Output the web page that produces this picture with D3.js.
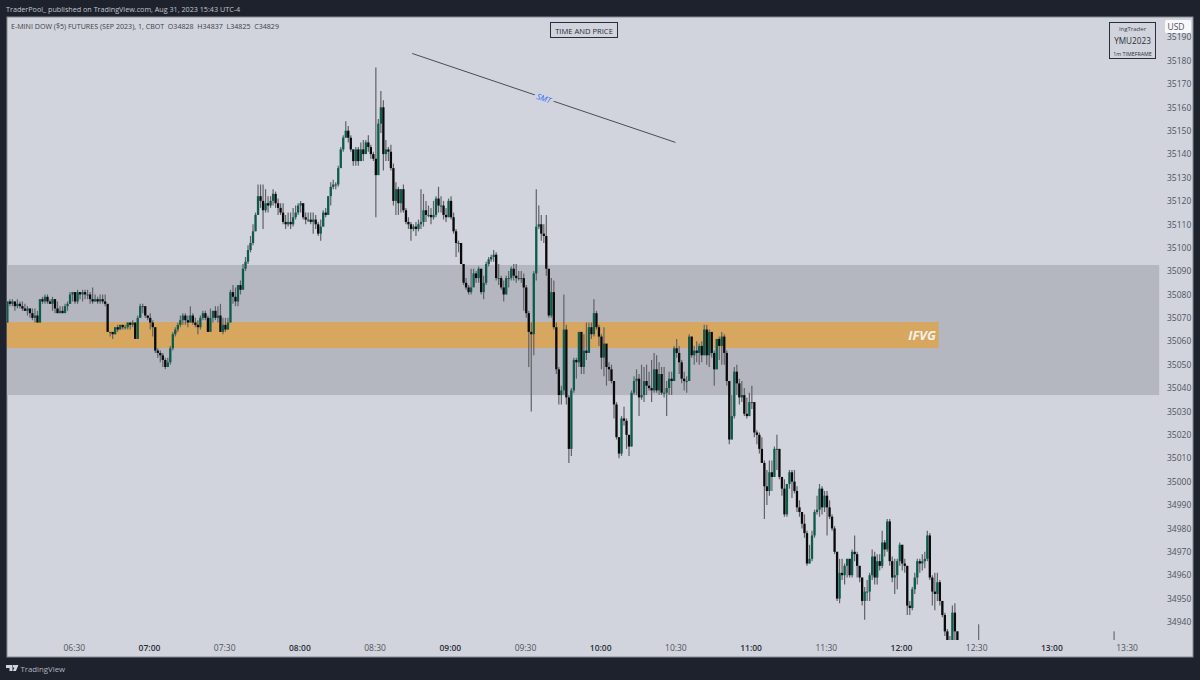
<!DOCTYPE html>
<head>
<meta charset="utf-8">
<title>E-MINI DOW ($5) FUTURES</title>
<script src="https://d3js.org/d3.v7.min.js"></script>
<style>
  body { margin: 0; background: #1e222d; }
  text { font-family: "Open Sans", "DejaVu Sans", sans-serif; }
</style>
</head>
<body>
<svg width="1200" height="680"></svg>
<script>
// 1 minute bars starting just after 06:03, prices kept as points above 34900
var firstMinute = 363.5
var priceBase = 34900
var firstOpen = 168

var closes = [177,176,177,175,176,175,174,173,174,172,170,171,168,178,177,179,177,176,178,174,
172,173,172,175,176,180,181,177,181,180,181,180,180,178,177,178,177,178,177,176,
164,164,163,166,165,167,166,166,168,167,168,161,170,175,175,171,170,168,166,156,
155,154,152,149,151,157,163,165,167,169,171,169,168,171,168,167,166,170,172,170,
164,170,173,170,171,164,167,165,168,181,179,177,184,182,191,194,199,202,207,214,
222,220,216,219,218,220,223,219,217,215,211,210,211,210,213,215,218,219,213,212,
212,211,212,210,206,209,215,214,222,226,227,227,234,242,247,250,247,242,237,242,
237,242,240,245,243,240,238,231,253,260,240,242,241,234,220,225,219,225,216,211,
210,208,209,208,210,211,216,214,214,213,214,221,218,218,214,213,220,213,207,202,
202,193,185,183,181,183,189,187,191,181,185,193,195,196,197,187,187,183,180,187,
187,191,188,187,187,187,183,172,164,163,189,209,210,206,205,191,171,181,166,148,
137,139,165,136,114,139,152,151,164,149,156,155,166,163,172,166,162,153,159,149,
148,143,133,119,112,127,126,120,115,138,143,144,136,137,143,141,140,139,148,139,
146,138,138,140,144,143,157,155,151,144,143,143,162,154,156,155,158,154,165,154,
164,155,148,161,158,162,155,143,118,128,147,142,136,137,129,128,134,134,121,120,
114,108,98,96,104,102,114,114,102,97,86,99,104,100,96,89,87,82,78,65,
67,77,87,88,97,89,94,89,85,80,70,50,61,60,64,67,60,70,69,64,
59,49,53,53,60,68,59,66,64,74,71,83,66,59,60,66,73,65,64,47,
46,54,59,66,65,66,67,77,59,53,52,57,49,43,36,32,31,44,36,30]

var highs = [177,178,178,177,178,177,177,176,175,174,174,174,173,178,179,180,180,178,179,178,
177,175,175,176,177,181,181,181,182,181,182,182,182,181,183,180,179,180,180,180,
175,164,164,166,167,167,167,167,168,168,169,168,171,176,176,175,171,172,169,166,
157,156,155,153,153,158,164,166,168,171,172,172,171,175,172,170,169,171,173,173,
171,174,173,175,175,176,170,170,170,182,184,183,184,186,193,196,201,205,210,215,
227,227,227,225,222,222,225,224,221,219,219,214,215,215,217,218,219,220,219,215,
215,215,215,214,211,212,216,217,222,228,229,228,235,243,248,254,252,248,242,243,
243,245,246,246,248,244,241,277,255,267,263,246,243,244,236,228,226,225,227,217,
213,211,210,211,212,225,223,220,218,217,220,222,226,222,220,217,221,222,215,208,
203,201,193,187,184,191,191,190,192,188,188,194,196,197,199,198,193,188,186,188,
190,192,193,193,190,190,189,184,173,168,190,225,218,214,210,214,190,187,186,168,
149,141,180,167,137,140,153,153,164,164,163,168,168,168,178,173,167,163,166,158,
151,150,143,134,119,128,132,127,120,139,145,148,146,150,149,150,147,152,155,154,
151,149,149,143,147,147,158,161,158,152,147,145,163,162,158,160,159,160,167,167,
165,163,156,161,162,164,163,156,143,137,149,150,144,143,140,136,138,141,134,122,
121,119,109,105,109,109,115,120,114,102,101,99,105,105,105,98,92,87,86,79,
73,79,88,94,99,98,96,96,92,86,81,70,67,67,65,67,67,71,77,70,
64,59,55,58,61,71,70,69,69,79,75,84,84,68,67,67,74,73,67,64,
49,55,61,67,67,69,70,79,78,60,61,61,58,49,44,37,34,47,48,36]

var lows = [168,175,175,173,174,174,173,173,171,170,169,168,168,168,176,176,176,176,173,172,
172,172,172,174,173,176,177,176,176,178,177,178,178,176,176,177,176,176,176,175,
164,162,161,163,164,165,165,165,165,165,166,161,161,170,172,170,169,165,162,155,
153,151,149,148,149,150,156,162,164,166,167,167,166,168,167,166,163,165,169,169,
164,164,168,169,168,164,163,164,165,168,176,175,175,180,182,190,193,198,201,207,
214,217,208,215,215,217,218,217,214,214,210,208,209,208,209,212,214,215,212,210,
211,210,206,208,205,203,209,213,214,218,225,225,226,235,241,247,245,241,235,235,
235,237,237,240,241,238,237,213,232,249,233,237,237,233,218,214,214,215,215,210,
208,203,207,205,207,208,209,211,213,210,212,213,215,215,212,211,213,212,206,196,
198,193,184,182,180,180,184,185,185,180,178,184,192,194,194,186,184,182,177,180,
183,186,186,185,186,185,173,170,149,130,154,186,208,203,202,188,170,170,165,146,
133,133,137,133,108,111,138,144,149,146,146,152,159,161,162,165,158,148,145,141,
143,142,127,118,110,111,124,114,111,115,137,137,128,135,134,137,139,134,138,138,
137,137,136,128,137,137,143,153,146,142,139,138,143,153,150,151,150,151,154,150,
149,153,141,148,152,150,150,141,116,118,127,137,133,134,128,127,128,131,119,116,
112,108,84,90,94,96,102,105,101,94,85,85,97,93,95,87,85,80,76,64,
65,66,76,86,85,86,87,77,84,79,69,49,48,58,56,59,59,59,66,59,
57,47,41,49,49,58,56,56,62,63,68,70,64,57,52,54,64,62,61,43,
43,45,52,56,61,62,63,66,58,47,45,49,47,42,34,32,31,31,31,30]

// the two wicks that poke up after price left the visible range
var strayMinutes = [751, 805]
var strayHighs = [39, 36]

var priceTicks = d3.range(34940, 35191, 10)
var timeTicks = [390, 420, 450, 480, 510, 540, 570, 600, 630, 660, 690, 720, 750, 780, 810]
var smtMinutes = [525, 630]
var smtPrices = [35183, 35145]
var grayZone = [35092.6, 35037]
var orangeZone = [35068.2, 35057.1]
var grayZoneEnd = 823
var orangeZoneEnd = 735

var svg = d3.select('svg')
var frameLeft = 7, frameRight = 1193, frameTop = 17, frameBottom = 657, axisLeft = 1164, axisTop = 640

var x = d3.scaleLinear().domain([420, 480]).range([149, 299.4])
var y = d3.scaleLinear().domain([34940, 35180]).range([622, 60.5])

svg.append('rect').attr('x', frameLeft).attr('y', frameTop)
  .attr('width', frameRight - frameLeft).attr('height', frameBottom - frameTop)
  .attr('fill', '#d1d4dc').attr('stroke', '#868993').attr('stroke-width', 1)

svg.append('defs').append('clipPath').attr('id', 'plot').append('rect')
  .attr('x', frameLeft).attr('y', frameTop).attr('width', axisLeft - frameLeft).attr('height', axisTop - frameTop)

var plot = svg.append('g').attr('clip-path', 'url(#plot)')

plot.append('rect').attr('x', frameLeft).attr('width', x(grayZoneEnd) - frameLeft)
  .attr('y', y(grayZone[0])).attr('height', y(grayZone[1]) - y(grayZone[0])).attr('fill', '#b5b7c0')
plot.append('rect').attr('x', frameLeft).attr('width', x(orangeZoneEnd) - frameLeft)
  .attr('y', y(orangeZone[0])).attr('height', y(orangeZone[1]) - y(orangeZone[0])).attr('fill', '#d8a75f')

var bars = closes.map(function (c, i) {
  return {
    minute: firstMinute + i,
    open: priceBase + (i ? closes[i - 1] : firstOpen),
    close: priceBase + c,
    high: priceBase + highs[i],
    low: priceBase + lows[i]
  }
})

function barColor(d) { return d.close >= d.open ? '#0d5c4b' : '#0a0a0c' }

plot.selectAll('line.wick').data(bars).enter().append('line').attr('class', 'wick')
  .attr('x1', function (d) { return x(d.minute) }).attr('x2', function (d) { return x(d.minute) })
  .attr('y1', function (d) { return y(d.high) }).attr('y2', function (d) { return y(d.low) })
  .attr('stroke', '#616268').attr('stroke-width', 1.2)

plot.selectAll('rect.body').data(bars).enter().append('rect').attr('class', 'body')
  .attr('x', function (d) { return x(d.minute) - 1.15 }).attr('width', 2.3)
  .attr('y', function (d) { return y(Math.max(d.open, d.close)) })
  .attr('height', function (d) { return Math.max(1, Math.abs(y(d.open) - y(d.close))) })
  .attr('fill', barColor)

plot.selectAll('line.stray').data(strayMinutes).enter().append('line').attr('class', 'stray')
  .attr('x1', function (d) { return x(d) }).attr('x2', function (d) { return x(d) })
  .attr('y1', function (d, i) { return y(priceBase + strayHighs[i]) }).attr('y2', axisTop)
  .attr('stroke', '#55565c').attr('stroke-width', 1)

// smt trend line with its label sitting in a gap
plot.append('line')
  .attr('x1', x(smtMinutes[0])).attr('y1', y(smtPrices[0]))
  .attr('x2', x(smtMinutes[1])).attr('y2', y(smtPrices[1]))
  .attr('stroke', '#4a4c52').attr('stroke-width', 1)

var smtX = (x(smtMinutes[0]) + x(smtMinutes[1])) / 2
  , smtY = (y(smtPrices[0]) + y(smtPrices[1])) / 2
plot.append('text').text('SMT')
  .attr('transform', 'translate(' + smtX + ',' + (smtY + 0.5) + ') rotate(19)')
  .attr('text-anchor', 'middle').attr('dy', '0.35em')
  .attr('font-size', 8).attr('font-style', 'italic').attr('fill', '#2f6bff')
  .attr('stroke', '#d1d4dc').attr('stroke-width', 5).attr('paint-order', 'stroke')

plot.append('text').text('IFVG')
  .attr('x', 936).attr('y', 340).attr('text-anchor', 'end')
  .attr('font-size', 13).attr('font-weight', 700).attr('font-style', 'italic')
  .attr('fill', '#f4f1ea')

// axes
var yAxis = svg.append('g').attr('transform', 'translate(1167,0)')
  .call(d3.axisRight(y).tickValues(priceTicks).tickSize(0).tickPadding(0).tickFormat(d3.format('d')))
yAxis.select('.domain').remove()
yAxis.selectAll('text').attr('font-size', 8.5).attr('fill', '#50535e')
  .style('font-family', '"Open Sans", sans-serif')

var xAxis = svg.append('g').attr('transform', 'translate(0,645)')
  .call(d3.axisBottom(x).tickValues(timeTicks).tickSize(0).tickPadding(0).tickFormat(function (m) {
    return d3.format('02')(Math.floor(m / 60)) + ':' + d3.format('02')(m % 60)
  }))
xAxis.select('.domain').remove()
xAxis.selectAll('text').attr('font-size', 8.5)
  .attr('fill', function (m) { return m % 60 ? '#50535e' : '#2a2e39' })
  .attr('font-weight', function (m) { return m % 60 ? 400 : 600 })
  .style('font-family', '"Open Sans", sans-serif')

// header and boxes
svg.append('text').text('TraderPool_ published on TradingView.com, Aug 31, 2023 15:43 UTC-4')
  .attr('x', 6).attr('y', 12).attr('font-size', 7.2).attr('fill', '#c3c6ce')
svg.append('text').text('E-MINI DOW ($5) FUTURES (SEP 2023), 1, CBOT  O34828  H34837  L34825  C34829')
  .attr('x', 11).attr('y', 28.5).attr('font-size', 7.1).attr('fill', '#3c3f48').style('white-space', 'pre')

svg.append('rect').attr('x', 550.5).attr('y', 22.5).attr('width', 67).attr('height', 15)
  .attr('fill', 'none').attr('stroke', '#2a2e39')
svg.append('text').text('TIME AND PRICE').attr('x', 584).attr('y', 33.5).attr('text-anchor', 'middle')
  .attr('font-size', 7.6).attr('fill', '#2a2e39')

svg.append('rect').attr('x', 1109.5).attr('y', 22.5).attr('width', 46).attr('height', 36)
  .attr('fill', 'none').attr('stroke', '#2a2e39')
svg.append('text').text('IngTrader').attr('x', 1132.5).attr('y', 30.5).attr('text-anchor', 'middle')
  .attr('font-size', 6).attr('fill', '#3c3f48')
svg.append('text').text('YMU2023').attr('x', 1132.5).attr('y', 43.5).attr('text-anchor', 'middle')
  .attr('font-size', 8.2).attr('fill', '#2a2e39')
svg.append('text').text('1m TIMEFRAME').attr('x', 1132.5).attr('y', 55.5).attr('text-anchor', 'middle')
  .attr('font-size', 5.3).attr('fill', '#2a2e39')

svg.append('rect').attr('x', 1165).attr('y', 20).attr('width', 26).attr('height', 13).attr('rx', 1.5).attr('fill', '#f8f8fa')
svg.append('text').text('USD').attr('x', 1176).attr('y', 30).attr('text-anchor', 'middle')
  .attr('font-size', 8.5).attr('fill', '#50535e')

// footer logo
svg.append('path').attr('d', 'M6 665h6.5v6h-3v-3h-3.5z M13 665h1.4a1.3 1.3 0 1 1 0 2.6h-1.4z M15.5 665h3l-2.6 6h-3z')
  .attr('fill', '#d1d4dc')
svg.append('text').text('TradingView').attr('x', 20.5).attr('y', 672).attr('font-size', 7.8).attr('fill', '#b2b5be')
</script>
</body>
